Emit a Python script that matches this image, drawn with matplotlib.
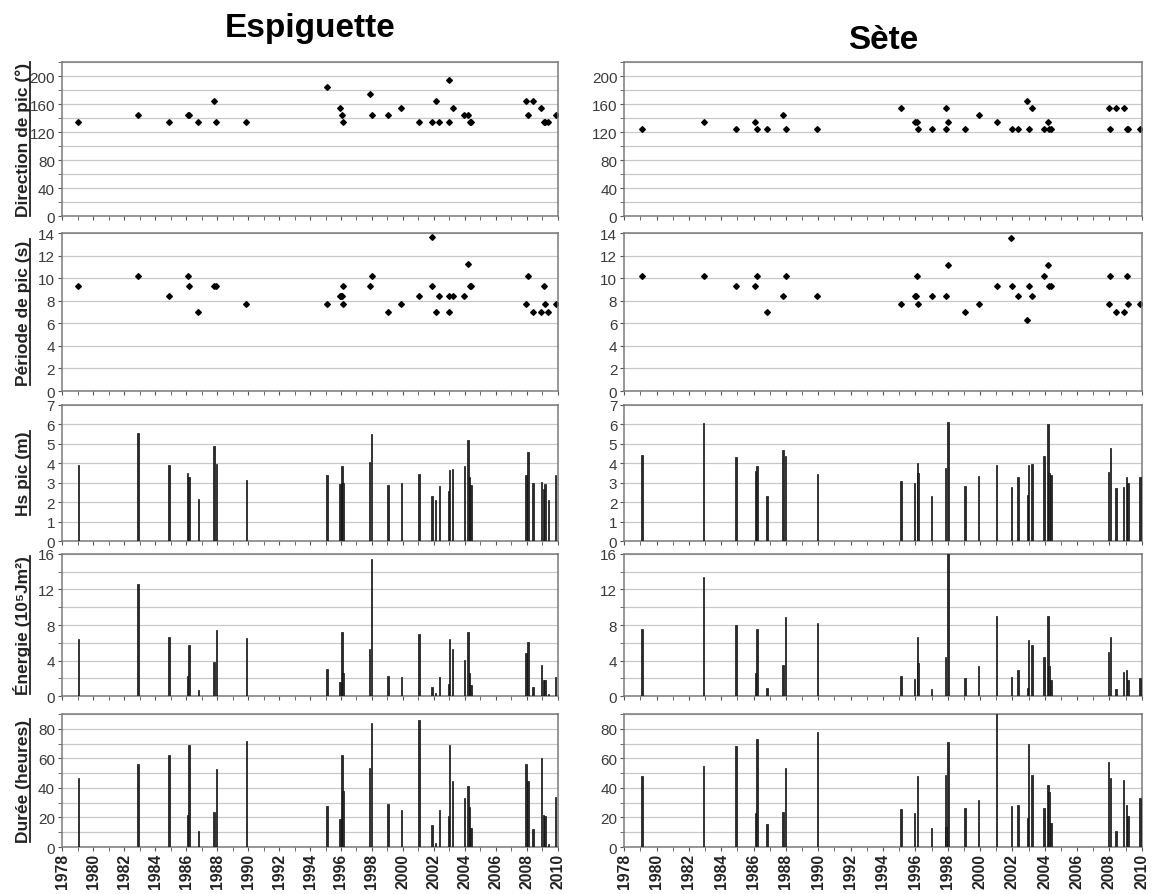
import numpy as np
import matplotlib
matplotlib.use('Agg')
import matplotlib.pyplot as plt
from matplotlib.ticker import MultipleLocator
from matplotlib.lines import Line2D

plt.rcParams['font.family'] = ['Liberation Sans', 'DejaVu Sans']

nan = np.nan

# Storm events, Espiguette (decimal year)
esp_time = [1979.05, 1982.9, 1984.9, 1986.1, 1986.2, 1986.8, 1987.8, 1987.95, 1989.9,
            1995.1, 1995.93, 1996.02, 1996.06, 1996.12, 1996.14, 1997.85, 1997.98,
            1999.03, 1999.9, 2001.02, 2001.86, 2001.88, 2002.1, 2002.34, 2002.94,
            2003.0, 2003.2, 2003.95, 2004.2, 2004.3, 2004.38, 2007.93, 2008.07,
            2008.38, 2008.93, 2009.08, 2009.15, 2009.37, 2009.85]
esp_dir = [135, 145, 135, 145, 145, 135, 165, 135, 135,
           185, 155, nan, 145, 135, nan, 175, 145,
           145, 155, 135, nan, 135, 165, 135, 195,
           135, 155, 145, 145, 135, 135, 165, 145,
           165, 155, 135, 135, 135, 145]
esp_per = [9.3, 10.2, 8.45, 10.2, 9.3, 7.0, 9.3, 9.3, 7.7,
           7.7, 8.45, 8.45, 8.45, 9.3, 7.7, 9.3, 10.2,
           7.0, 7.7, 8.45, 13.65, 9.3, 7.0, 8.45, 7.0,
           8.45, 8.45, 8.45, 11.25, 9.3, 9.3, 7.7, 10.2,
           7.0, 7.0, 9.3, 7.7, 7.0, 7.7]
esp_hs = [3.9, 5.55, 3.9, 3.5, 3.3, 2.15, 4.9, 3.95, 3.15,
          3.4, 2.95, nan, 3.85, 3.0, nan, 4.05, 5.5,
          2.9, 3.0, 3.45, nan, 2.3, 2.1, 2.85, 2.55,
          3.65, 3.7, 3.85, 5.2, 3.3, 2.9, 3.4, 4.6,
          3.0, 3.05, 2.7, 2.95, 2.1, 3.4]
esp_en = [6.4, 12.6, 6.7, 2.3, 5.7, 0.7, 3.8, 7.4, 6.55,
          3.1, 1.6, nan, 7.2, 2.6, nan, 5.35, 15.4,
          2.3, 2.1, 7.0, nan, 1.0, 0.3, 2.15, 1.3,
          6.4, 5.25, 4.05, 7.2, 2.65, 1.25, 4.9, 6.1,
          1.0, 3.5, 1.75, 1.75, 0.2, 2.1]
esp_dur = [47, 56, 62, 22, 69, 11, 24, 53, 72,
           28, 19, nan, 62, 38, nan, 53.5, 84,
           29, 25, 86, nan, 15, 3, 25, 21,
           69, 45, 33, 41, 27, 13, 56, 45,
           12, 60, 22, 21, 2, 34]

# Storm events, Sete
set_time = [1979.1, 1982.9, 1984.9, 1986.1, 1986.22, 1986.84, 1987.82, 1987.98, 1989.94,
            1995.1, 1995.96, 1996.05, 1996.12, 1996.17, 1997.0, 1997.88, 1997.9,
            1998.03, 1999.06, 1999.92, 2001.02, 2001.9, 2001.95, 2002.35, 2002.93,
            2003.0, 2003.21, 2003.96, 2004.2, 2004.27, 2004.38, 2007.95, 2008.06,
            2008.4, 2008.88, 2009.07, 2009.16, 2009.9]
set_dir = [125, 135, 125, 135, 125, 125, 145, 125, 125,
           155, 135, nan, 135, 125, 125, 155, 125,
           135, 125, 145, 135, nan, 125, 125, 165,
           125, 155, 125, 135, 125, 125, 155, 125,
           155, 155, 125, 125, 125]
set_per = [10.2, 10.2, 9.3, 9.3, 10.2, 7.0, 8.45, 10.2, 8.45,
           7.7, 8.45, 8.45, 10.2, 7.7, 8.45, 8.45, nan,
           11.2, 7.0, 7.7, 9.3, 13.6, 9.3, 8.45, 6.3,
           9.3, 8.45, 10.2, 11.2, 9.3, 9.3, 7.7, 10.2,
           7.0, 7.0, 10.2, 7.7, 7.7]
set_hs = [4.45, 6.05, 4.3, 3.6, 3.85, 2.3, 4.7, 4.4, 3.45,
          3.1, 3.0, nan, 4.0, 3.5, 2.3, 3.75, nan,
          6.1, 2.85, 3.35, 3.9, nan, 2.8, 3.3, 2.35,
          3.9, 3.95, 4.4, 6.0, 3.5, 3.4, 3.55, 4.8,
          2.75, 2.8, 3.3, 3.0, 3.3]
set_en = [7.55, 13.45, 8.0, 2.55, 7.5, 0.95, 3.45, 8.85, 8.2,
          2.3, 1.9, nan, 6.7, 3.7, 0.8, 4.35, nan,
          16.0, 2.05, 3.35, 9.0, nan, 2.15, 2.9, 0.95,
          6.3, 5.8, 4.35, 9.05, 3.4, 1.75, 5.0, 6.7,
          0.8, 2.75, 2.9, 1.75, 2.05]
set_dur = [48, 55, 68.5, 22.7, 73, 15.4, 23.4, 53.5, 78,
           25.5, 22.7, nan, 48, nan, 12.6, 49, 13.4,
           71, 26.7, 31.5, 90, nan, 27.5, 28.6, 19.6,
           69.6, 48.5, 26.2, 42.3, 37.2, 16, 57.5, 46.5,
           10.8, 45.2, 28.2, 20.7, 33.3]

row_labels = ['Direction de pic (°)', 'Période de pic (s)', 'Hs pic (m)',
              'Énergie (10⁵Jm²)', 'Durée (heures)']
row_ylim = [220, 14, 7, 16, 90]
row_major = [40, 2, 1, 4, 20]
row_minor = [20, 2, 1, 2, 10]
row_kind = ['point', 'point', 'bar', 'bar', 'bar']

# axes boxes in figure fraction: (bottom, height) for rows, (left, width) for columns
row_box = [(0.7575, 0.172), (0.562, 0.1765), (0.3944, 0.152), (0.2212, 0.1587), (0.0525, 0.1486)]
col_box = [(0.0537, 0.4294), (0.5405, 0.448)]


def draw_panel(ax, t, v, row, show_xlabels):
    t = np.asarray(t, dtype=float)
    v = np.asarray(v, dtype=float)
    ok = ~np.isnan(v)
    if row_kind[row] == 'point':
        ax.plot(t[ok], v[ok], linestyle='none', marker='D', ms=2.9, color='black')
    else:
        ax.bar(t[ok], v[ok], width=0.09, color='#2a2a2a', edgecolor='#111111',
               linewidth=0.5, zorder=3)

    ax.set_xlim(1978, 2010)
    ax.set_ylim(0, row_ylim[row])
    ax.yaxis.set_major_locator(MultipleLocator(row_major[row]))
    ax.yaxis.set_minor_locator(MultipleLocator(row_minor[row]))
    ax.xaxis.set_major_locator(MultipleLocator(2))
    ax.xaxis.set_minor_locator(MultipleLocator(1))
    ax.grid(True, axis='y', which='both', color='#c8c8c8', linewidth=0.9)
    ax.set_axisbelow(True)
    for s in ax.spines.values():
        s.set_color('#7a7a7a')
        s.set_linewidth(1.1)
    ax.tick_params(axis='y', which='both', direction='out', length=3, color='#555555',
                   labelsize=11, labelcolor='#3a3a3a', pad=2)
    ax.tick_params(axis='x', which='both', direction='out', length=3, color='#555555', pad=1)
    if show_xlabels:
        ax.set_xticklabels([str(int(y)) for y in ax.get_xticks()], rotation=90,
                           fontsize=11.3, fontweight='bold', color='#222222')
    else:
        ax.tick_params(axis='x', labelbottom=False)


fig = plt.figure(figsize=(11.55, 8.95), dpi=100)

sites = [
    ('Espiguette', esp_time, [esp_dir, esp_per, esp_hs, esp_en, esp_dur]),
    ('Sète', set_time, [set_dir, set_per, set_hs, set_en, set_dur]),
]

label_axes = []
for c, (name, t, series) in enumerate(sites):
    left, width = col_box[c]
    for r in range(5):
        bottom, height = row_box[r]
        ax = fig.add_axes([left, bottom, width, height])
        draw_panel(ax, t, series[r], r, r == 4)
        if c == 0:
            ax.set_ylabel(row_labels[r], fontsize=12.5, fontweight='bold', color='#222222')
            ax.yaxis.set_label_coords(-0.062, 0.5)
            label_axes.append(ax)
        if r == 0:
            ax.set_title(name, fontsize=24, fontweight='bold', pad=19 if c == 0 else 10)

# underline the y labels (text rotated 90, so the underline sits on its right side)
fig.canvas.draw()
renderer = fig.canvas.get_renderer()
W, H = fig.bbox.width, fig.bbox.height
for ax in label_axes:
    bb = ax.yaxis.label.get_window_extent(renderer)
    x = (bb.x1 - 1.0) / W
    fig.add_artist(Line2D([x, x], [bb.y0 / H, bb.y1 / H], color='#222222', linewidth=1.3))

plt.savefig('out.png', dpi=100)
